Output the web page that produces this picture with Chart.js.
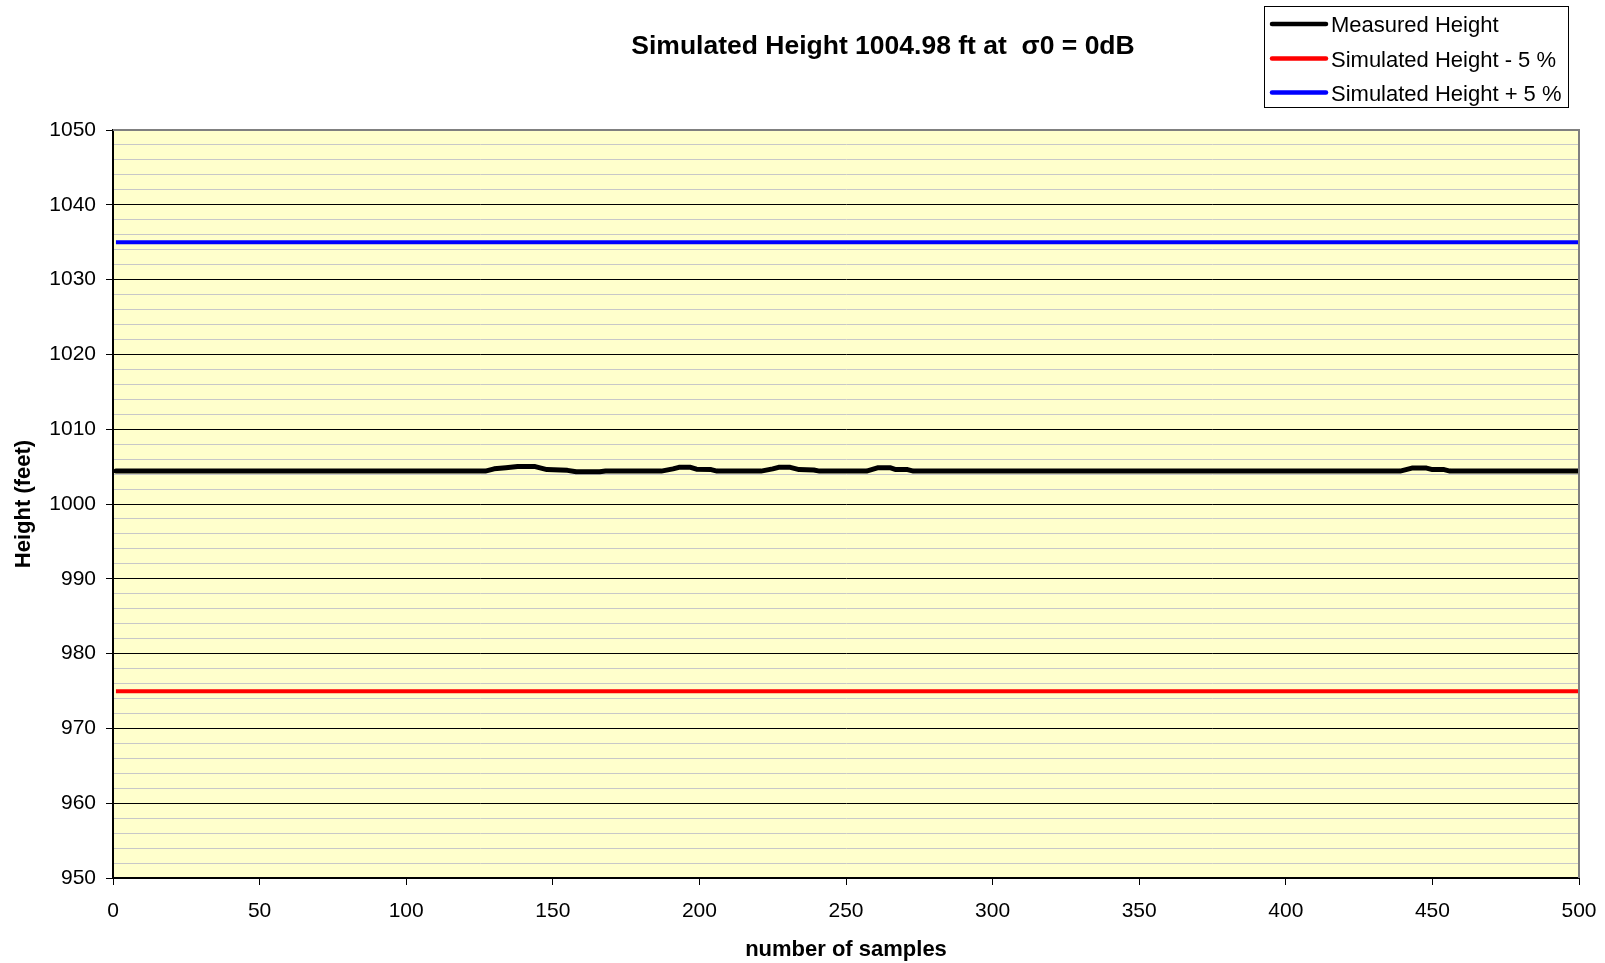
<!DOCTYPE html>
<html>
<head>
<meta charset="utf-8">
<script src="https://cdn.jsdelivr.net/npm/chart.js@4.4.1/dist/chart.umd.min.js"></script>
<style>
html,body{margin:0;padding:0;background:#fff;}
canvas{display:block;}
</style>
</head>
<body>
<canvas id="c" width="1605" height="963"></canvas>
<script>
// ---- data ----
const chartTitle = "Simulated Height 1004.98 ft at  \u03C30 = 0dB";
const xTitle = "number of samples";
const yTitle = "Height (feet)";
const seriesNames = ["Measured Height", "Simulated Height - 5 %", "Simulated Height + 5 %"];
const seriesColors = ["#000000", "#ff0000", "#0000ff"];

// measured height: breakpoints (sample number, feet)
const measuredX = [1, 127, 130, 134, 138, 144, 148, 155, 158, 166, 168,
  187, 191, 193, 197, 199, 204, 206,
  221, 225, 227, 231, 234, 239, 241,
  257, 261, 265, 267, 271, 273,
  439, 443, 448, 450, 454, 456, 500];
const measuredY = [1004.4, 1004.4, 1004.7, 1004.85, 1005.0, 1005.0, 1004.6, 1004.5, 1004.3, 1004.3, 1004.4,
  1004.4, 1004.7, 1004.9, 1004.9, 1004.65, 1004.6, 1004.4,
  1004.4, 1004.7, 1004.9, 1004.9, 1004.6, 1004.55, 1004.4,
  1004.4, 1004.85, 1004.85, 1004.6, 1004.6, 1004.4,
  1004.4, 1004.8, 1004.8, 1004.6, 1004.6, 1004.4, 1004.4];

const boundX = [1, 500];
const lowerY = [974.98, 974.98];
const upperY = [1034.98, 1034.98];

const xMin = 0, xMax = 500, xStep = 50;
const yMin = 950, yMax = 1050, yMinorStep = 2, yMajorStep = 10;

// ---- build ----
function pts(xs, ys){ return xs.map((x,i)=>({x:x, y:ys[i]})); }
const FONT = '"Liberation Sans", Arial, sans-serif';

const bgPlugin = {
  id:'bg',
  beforeDraw(chart){
    const {ctx, chartArea:a} = chart;
    ctx.save();
    ctx.fillStyle = '#ffffcc';
    ctx.fillRect(a.left, a.top, a.right-a.left, a.bottom-a.top);
    ctx.restore();
  }
};

const framePlugin = {
  id:'frame',
  afterDraw(chart){
    const {ctx, chartArea:a} = chart;
    ctx.save();
    ctx.strokeStyle = '#808080';
    ctx.lineWidth = 2;
    ctx.beginPath();
    ctx.moveTo(a.left, a.top);
    ctx.lineTo(a.right, a.top);
    ctx.lineTo(a.right, a.bottom);
    ctx.stroke();
    // title
    ctx.fillStyle = '#000';
    ctx.font = 'bold 26.5px ' + FONT;
    ctx.textAlign = 'center';
    ctx.textBaseline = 'middle';
    ctx.fillText(chartTitle, 883, 47);
    // legend
    const bx = 1264.5, by = 6.5, bw = 304, bh = 101;
    ctx.fillStyle = '#fff';
    ctx.fillRect(bx, by, bw, bh);
    ctx.strokeStyle = '#000';
    ctx.lineWidth = 1;
    ctx.strokeRect(bx, by, bw, bh);
    const rows = [24, 58.5, 92.5];
    ctx.font = '22px ' + FONT;
    ctx.textAlign = 'left';
    for (let i=0;i<seriesNames.length;i++){
      ctx.strokeStyle = seriesColors[i];
      ctx.lineWidth = 4.5;
      ctx.lineCap = 'round';
      ctx.beginPath();
      ctx.moveTo(1272, rows[i]);
      ctx.lineTo(1326, rows[i]);
      ctx.stroke();
      ctx.fillStyle = '#000';
      ctx.fillText(seriesNames[i], 1331, rows[i]+2);
    }
    ctx.restore();
  }
};

new Chart(document.getElementById('c'), {
  type:'line',
  data:{
    datasets:[
      {label:seriesNames[0], data:pts(measuredX, measuredY), borderColor:seriesColors[0], borderWidth:5, borderJoinStyle:'round', borderCapStyle:'round', pointRadius:0, tension:0, order:1},
      {label:seriesNames[1], data:pts(boundX, lowerY), borderColor:seriesColors[1], borderWidth:4, pointRadius:0, order:2},
      {label:seriesNames[2], data:pts(boundX, upperY), borderColor:seriesColors[2], borderWidth:4, pointRadius:0, order:2}
    ]
  },
  options:{
    responsive:false,
    animation:false,
    devicePixelRatio:1,
    layout:{padding:{top:130, right:26, left:0, bottom:0}},
    plugins:{legend:{display:false}, title:{display:false}, tooltip:{enabled:false}},
    scales:{
      x:{
        type:'linear', min:xMin, max:xMax,
        afterFit(s){ s.height = 85; s.paddingLeft = 0; s.paddingRight = 0; },
        ticks:{stepSize:xStep, color:'#000', font:{family:FONT, size:21}, padding:14, maxRotation:0},
        grid:{drawOnChartArea:false, tickLength:7, tickColor:'#000', tickWidth:1},
        border:{color:'#000', width:2},
        title:{display:true, text:xTitle, color:'#000', font:{family:FONT, size:22, weight:'bold'}, padding:{top:0, bottom:0}}
      },
      y:{
        type:'linear', min:yMin, max:yMax,
        afterFit(s){ s.width = 113; s.paddingTop = 0; s.paddingBottom = 0; },
        ticks:{stepSize:yMinorStep, autoSkip:false, color:'#000', font:{family:FONT, size:21}, padding:10,
          callback:(v)=> (Math.round(v) % yMajorStep === 0 ? String(Math.round(v)) : '')},
        grid:{
          color:(c)=> (c.tick && Math.round(c.tick.value) % yMajorStep === 0 ? '#000' : '#c8c8c8'),
          tickColor:(c)=> (c.tick && Math.round(c.tick.value) % yMajorStep === 0 ? '#000' : 'rgba(0,0,0,0)'),
          lineWidth:1, tickLength:7
        },
        border:{color:'#000', width:2},
        title:{display:true, text:yTitle, color:'#000', font:{family:FONT, size:22, weight:'bold'}, padding:{top:11, bottom:0}}
      }
    }
  },
  plugins:[bgPlugin, framePlugin]
});
</script>
</body>
</html>
